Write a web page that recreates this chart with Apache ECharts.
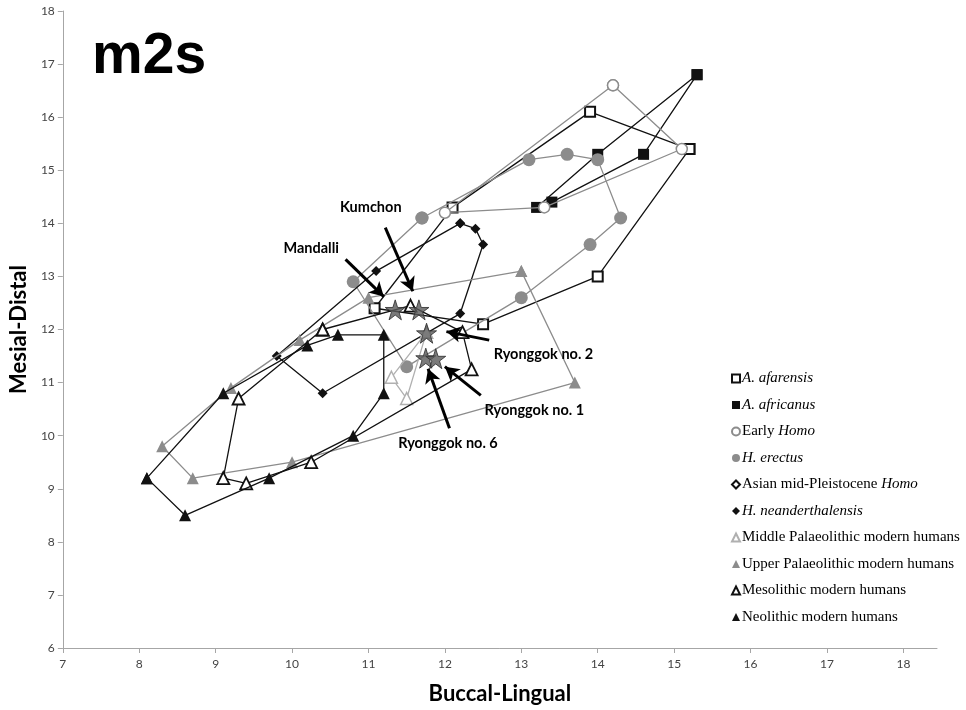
<!DOCTYPE html>
<html>
<head>
<meta charset="utf-8">
<script src="https://cdn.jsdelivr.net/npm/echarts@6/dist/echarts.min.js"></script>
<style>
  html, body { margin: 0; padding: 0; background: #fff; }
  #chart { width: 966px; height: 710px; }
</style>
</head>
<body>
<div id="chart"></div>
<script>
// m2 crown dimensions: buccal-lingual (x) vs mesial-distal (y), mm.
// Each group is drawn as a closed outline through its specimens.
const xTicks = [7, 8, 9, 10, 11, 12, 13, 14, 15, 16, 17, 18];
const yTicks = [6, 7, 8, 9, 10, 11, 12, 13, 14, 15, 16, 17, 18];

const afarensis = [[15.2, 15.4], [13.9, 16.1], [12.1, 14.3], [11.08, 12.4], [12.5, 12.1], [14.0, 13.0], [15.2, 15.4]];
const africanus = [[15.3, 16.8], [14.0, 15.3], [13.2, 14.3], [13.4, 14.4], [14.6, 15.3], [15.3, 16.8]];
const earlyHomo = [[14.2, 16.6], [15.1, 15.4], [13.3, 14.3], [12.0, 14.2], [14.2, 16.6]];
const erectus = [[11.7, 14.1], [13.1, 15.2], [13.6, 15.3], [14.0, 15.2], [14.3, 14.1], [13.9, 13.6], [13.0, 12.6], [11.5, 11.3], [10.8, 12.9], [11.7, 14.1]];
const asianMidPleistocene = [];
const neanderthalensis = [[12.2, 14.0], [12.4, 13.9], [12.5, 13.6], [12.2, 12.3], [10.4, 10.8], [9.8, 11.5], [11.1, 13.1], [12.2, 14.0]];
const middlePalaeolithic = [[11.76, 11.95], [11.3, 11.1], [11.5, 10.7], [11.76, 11.95]];
const upperPalaeolithic = [[13.0, 13.1], [13.7, 11.0], [10.0, 9.5], [8.7, 9.2], [8.3, 9.8], [9.2, 10.9], [10.1, 11.8], [11.0, 12.6], [13.0, 13.1]];
const mesolithic = [[10.4, 12.0], [9.3, 10.7], [9.1, 9.2], [9.4, 9.1], [10.25, 9.5], [12.35, 11.25], [12.23, 11.95], [11.55, 12.45], [10.4, 12.0]];
const neolithic = [[8.1, 9.2], [8.6, 8.5], [9.7, 9.2], [10.8, 10.0], [11.2, 10.8], [11.2, 11.9], [10.6, 11.9], [10.2, 11.7], [9.1, 10.8], [8.1, 9.2]];

// Korean specimens
const specimenNames = ['Mandalli', 'Kumchon', 'Ryonggok no. 2', 'Ryonggok no. 6', 'Ryonggok no. 1'];
const specimenValues = [[11.35, 12.37], [11.66, 12.37], [11.76, 11.93], [11.75, 11.46], [11.88, 11.45]];

// Callout arrows (tail -> head) and label centres, in axis units
const calloutArrows = [
  [[11.22, 13.92], [11.58, 12.72]],
  [[10.7, 13.32], [11.2, 12.62]],
  [[12.58, 11.8], [12.02, 11.96]],
  [[12.47, 10.76], [12.0, 11.3]],
  [[12.06, 10.14], [11.78, 11.26]]
];
const calloutLabels = [
  ['Kumchon', [11.03, 14.3]],
  ['Mandalli', [10.25, 13.53]],
  ['Ryonggok no. 2', [13.29, 11.54]],
  ['Ryonggok no. 1', [13.17, 10.47]],
  ['Ryonggok no. 6', [12.04, 9.85]]
];

const groupNames = [
  'A. afarensis', 'A. africanus', 'Early Homo', 'H. erectus', 'Asian mid-Pleistocene Homo',
  'H. neanderthalensis', 'Middle Palaeolithic modern humans', 'Upper Palaeolithic modern humans',
  'Mesolithic modern humans', 'Neolithic modern humans'
];
const groupData = [afarensis, africanus, earlyHomo, erectus, asianMidPleistocene, neanderthalensis,
  middlePalaeolithic, upperPalaeolithic, mesolithic, neolithic];

const BLACK = '#111';
const GREY = '#8c8c8c';
const LIGHT = '#b0b0b0';
const groupStyle = [
  { symbol: 'rect', size: 10, fill: '#fff', border: BLACK, bw: 2, line: BLACK },
  { symbol: 'rect', size: 11, fill: BLACK, border: BLACK, bw: 0, line: BLACK },
  { symbol: 'circle', size: 11, fill: '#fff', border: GREY, bw: 1.5, line: GREY },
  { symbol: 'circle', size: 13, fill: GREY, border: GREY, bw: 0, line: GREY },
  { symbol: 'diamond', size: 9, fill: '#fff', border: BLACK, bw: 1.5, line: BLACK },
  { symbol: 'diamond', size: 10, fill: BLACK, border: BLACK, bw: 0, line: BLACK },
  { symbol: 'triangle', size: 12, fill: '#fff', border: LIGHT, bw: 1.5, line: LIGHT },
  { symbol: 'triangle', size: 12, fill: GREY, border: GREY, bw: 0, line: GREY },
  { symbol: 'triangle', size: 12, fill: '#fff', border: BLACK, bw: 1.8, line: BLACK },
  { symbol: 'triangle', size: 12, fill: BLACK, border: BLACK, bw: 0, line: BLACK }
];

const italicParts = {
  'A. afarensis': '{i|A. afarensis}',
  'A. africanus': '{i|A. africanus}',
  'Early Homo': 'Early {i|Homo}',
  'H. erectus': '{i|H. erectus}',
  'Asian mid-Pleistocene Homo': 'Asian mid-Pleistocene {i|Homo}',
  'H. neanderthalensis': '{i|H. neanderthalensis}'
};

const chart = echarts.init(document.getElementById('chart'), null, { renderer: 'canvas' });

const series = groupNames.map((name, k) => {
  const st = groupStyle[k];
  return {
    name: name,
    type: 'line',
    data: groupData[k],
    symbol: st.symbol,
    symbolSize: st.size,
    showAllSymbol: true,
    animation: false,
    itemStyle: { color: st.fill, borderColor: st.border, borderWidth: st.bw, opacity: 1 },
    lineStyle: { color: st.line, width: 1.3 },
    emphasis: { disabled: true },
    z: 2 + k * 0.01
  };
});

series.push({
  name: 'Korean specimens',
  type: 'scatter',
  data: specimenValues,
  symbol: 'path://M50,0 L61.8,35.3 L100,35.3 L69.1,57.1 L80.9,92.7 L50,70.6 L19.1,92.7 L30.9,57.1 L0,35.3 L38.2,35.3 Z',
  symbolSize: 20,
  itemStyle: { color: '#5a5a5a', borderColor: '#2a2a2a', borderWidth: 1 },
  z: 5,
  animation: false,
  emphasis: { disabled: true },
  markLine: {
    silent: true,
    symbol: ['none', 'arrow'],
    symbolSize: [12, 14],
    lineStyle: { color: '#000', width: 3, type: 'solid' },
    label: { show: false },
    data: calloutArrows.map(a => [{ coord: a[0] }, { coord: a[1] }]),
    animation: false
  },
  markPoint: {
    silent: true,
    symbolSize: 0,
    animation: false,
    data: calloutLabels.map(l => ({
      coord: l[1],
      value: l[0],
      label: {
        show: true, position: 'inside', formatter: l[0],
        color: '#000', fontFamily: 'Lato', fontWeight: 'bold', fontSize: 14.5
      }
    }))
  }
});

chart.setOption({
  animation: false,
  backgroundColor: '#fff',
  grid: { left: 60, right: 29, top: 11, bottom: 60, containLabel: false },
  title: {
    text: 'm2s', left: 87, top: 24,
    textStyle: { fontFamily: 'Liberation Sans, Arial', fontWeight: 'bold', fontSize: 57, color: '#000' }
  },
  xAxis: {
    type: 'value', min: 7, max: 18.44, interval: 1,
    name: 'Buccal-Lingual', nameLocation: 'middle', nameGap: 35,
    nameTextStyle: { fontFamily: 'Lato', fontWeight: 'bold', fontSize: 22, color: '#000' },
    axisLine: { lineStyle: { color: '#a6a6a6', width: 1 } },
    axisTick: { show: true, inside: false, length: 5, lineStyle: { color: '#a6a6a6' }, customValues: xTicks },
    axisLabel: { customValues: xTicks, color: '#444', fontFamily: 'Lato', fontSize: 12, margin: 10 },
    splitLine: { show: false }
  },
  yAxis: {
    type: 'value', min: 6, max: 18, interval: 1,
    name: 'Mesial-Distal', nameLocation: 'middle', nameGap: 30, nameRotate: 90,
    nameTextStyle: { fontFamily: 'Lato', fontWeight: 'bold', fontSize: 22, color: '#000' },
    axisLine: { show: true, lineStyle: { color: '#a6a6a6', width: 1 } },
    axisTick: { show: true, inside: false, length: 5, lineStyle: { color: '#a6a6a6' }, customValues: yTicks },
    axisLabel: { customValues: yTicks, color: '#444', fontFamily: 'Lato', fontSize: 12, margin: 8 },
    splitLine: { show: false }
  },
  legend: {
    orient: 'vertical', left: 726, top: 365,
    itemWidth: 8, itemHeight: 8, itemGap: 9.5,
    selectedMode: false,
    data: groupNames.map((n, k) => ({ name: n, icon: groupStyle[k].symbol })),
    formatter: n => italicParts[n] || n,
    textStyle: {
      fontFamily: 'Liberation Serif', fontSize: 15, color: '#000', lineHeight: 17, padding: [0, 0, 0, -3],
      rich: { i: { fontFamily: 'Liberation Serif', fontStyle: 'italic', fontSize: 15, color: '#000', lineHeight: 17 } }
    }
  },
  series: series
});
</script>
</body>
</html>
